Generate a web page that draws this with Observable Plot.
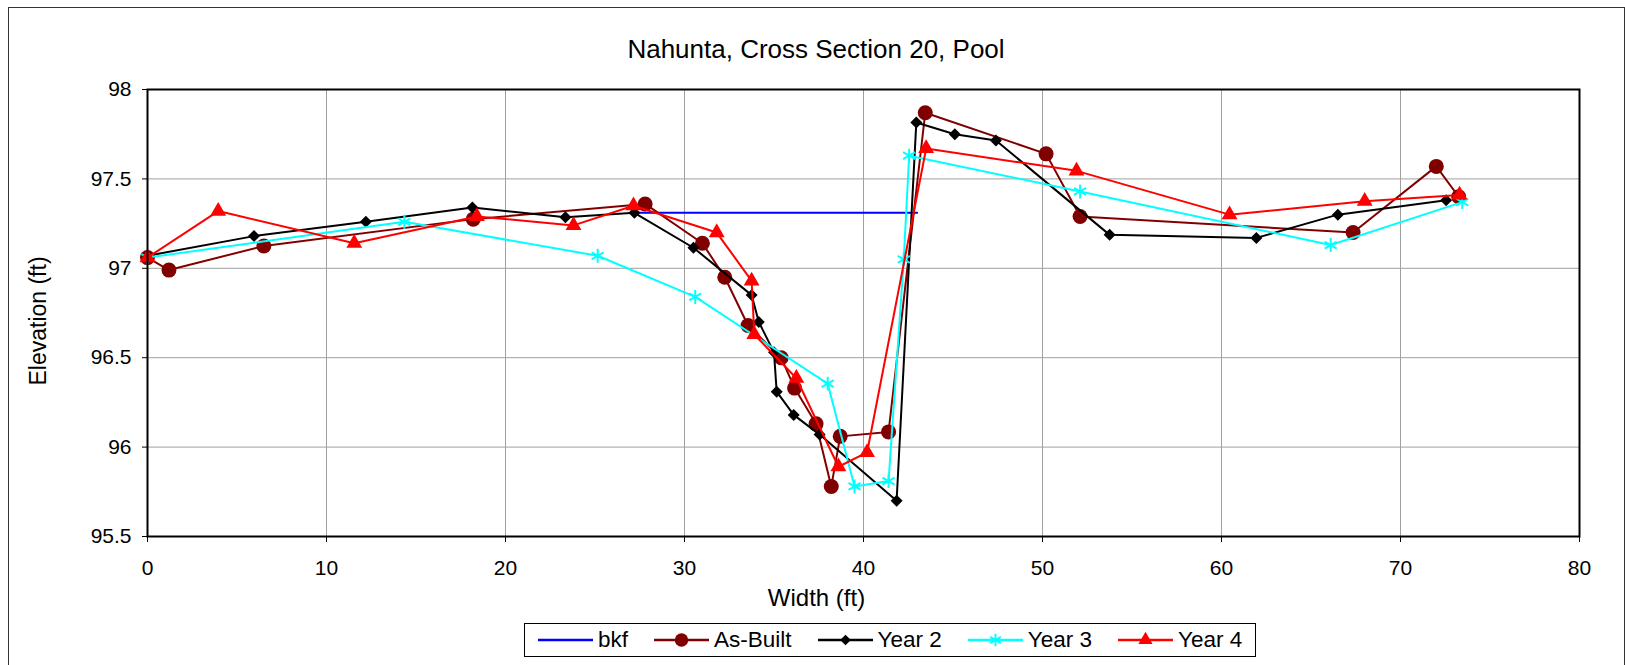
<!DOCTYPE html>
<html>
<head>
<meta charset="utf-8">
<script src="https://cdn.jsdelivr.net/npm/d3@7"></script>
<script src="https://cdn.jsdelivr.net/npm/@observablehq/plot@0.6"></script>
<style>
  html, body { margin: 0; padding: 0; background: #fff; }
  body { font-family: "Liberation Sans", Arial, sans-serif; color: #000; }
  #wrap { position: relative; width: 1625px; height: 665px; overflow: hidden; }
  #border { position: absolute; left: 8px; top: 7px; width: 1617px; height: 720px; border: 1px solid #333; box-sizing: border-box; pointer-events: none; }
  #title { margin-left: 8px; width: 1616px; height: 70px; box-sizing: border-box; padding-top: 36px; font-size: 26px; line-height: 26px; text-align: center; white-space: nowrap; }
  #chart svg { display: block; }
  #legendRow { height: 47px; position: relative; }
  #legend { position: absolute; left: 524px; top: 5px; width: 732px; height: 34px; box-sizing: border-box; border: 1px solid #000; display: flex; align-items: center; padding-left: 13px; font-size: 22.5px; white-space: nowrap; }
  .item { display: flex; align-items: center; margin-right: 26px; flex-shrink: 0; white-space: nowrap; }
  .item svg { margin-right: 5px; flex-shrink: 0; }
</style>
</head>
<body>
<div id="wrap">
  <div id="border"></div>
  <div id="title">Nahunta, Cross Section 20, Pool</div>
  <div id="chart"></div>
  <div id="legendRow"><div id="legend"></div></div>
</div>
<script>
// ---- data ----
const bkfX = [27.2, 43.0];
const bkfY = [97.31, 97.31];

const asBuiltX = [0, 1.2, 6.5, 18.2, 27.8, 31.0, 32.25, 33.55, 35.4, 36.15, 37.35, 38.2, 38.7, 41.4, 43.45, 50.2, 52.1, 67.35, 72.0, 73.25];
const asBuiltY = [97.06, 96.99, 97.125, 97.275, 97.36, 97.14, 96.95, 96.68, 96.50, 96.33, 96.13, 95.78, 96.06, 96.085, 97.87, 97.64, 97.29, 97.20, 97.57, 97.40];

const year2X = [0, 5.95, 12.2, 18.15, 23.35, 27.2, 30.5, 33.75, 34.15, 35.0, 35.15, 36.1, 37.55, 41.85, 42.95, 45.1, 47.4, 53.75, 61.95, 66.5, 72.55];
const year2Y = [97.07, 97.18, 97.26, 97.34, 97.285, 97.31, 97.115, 96.85, 96.70, 96.53, 96.31, 96.18, 96.07, 95.70, 97.815, 97.75, 97.715, 97.187, 97.17, 97.30, 97.38];

const year3X = [0, 14.35, 25.15, 30.6, 38.0, 39.5, 41.4, 42.25, 42.55, 52.1, 66.1, 73.45];
const year3Y = [97.06, 97.26, 97.07, 96.84, 96.355, 95.78, 95.81, 97.05, 97.63, 97.43, 97.13, 97.37];

const year4X = [0, 3.95, 11.55, 18.4, 23.8, 27.15, 31.8, 33.75, 33.9, 36.25, 38.6, 40.2, 43.5, 51.9, 60.45, 68.0, 73.3];
const year4Y = [97.06, 97.32, 97.14, 97.29, 97.24, 97.35, 97.20, 96.93, 96.63, 96.385, 95.89, 95.97, 97.67, 97.545, 97.30, 97.375, 97.41];

const xTicks = [0, 10, 20, 30, 40, 50, 60, 70, 80];
const yTicks = [95.5, 96, 96.5, 97, 97.5, 98];

const seriesNames = ["bkf", "As-Built", "Year 2", "Year 3", "Year 4"];
const xLabel = "Width (ft)";
const yLabel = "Elevation (ft)";

// ---- build ----
const rows = (xs, ys) => xs.map((x, i) => ({x, y: ys[i]}));
const series = [
  {name: seriesNames[0], color: "#0000ff", data: rows(bkfX, bkfY), symbol: null},
  {name: seriesNames[1], color: "#800000", data: rows(asBuiltX, asBuiltY), symbol: "circle", r: 7.5, fillSym: true},
  {name: seriesNames[2], color: "#000000", data: rows(year2X, year2Y), symbol: "diamond2", r: 5.4, fillSym: true},
  {name: seriesNames[3], color: "#00ffff", data: rows(year3X, year3Y), symbol: "asterisk", r: 6.6, fillSym: false},
  {name: seriesNames[4], color: "#ff0000", data: rows(year4X, year4Y), symbol: "triangle", r: 5.9, fillSym: true}
];

const marks = [
  Plot.gridX(xTicks, {stroke: "#a0a0a0", strokeOpacity: 1, strokeWidth: 1}),
  Plot.gridY(yTicks, {stroke: "#a0a0a0", strokeOpacity: 1, strokeWidth: 1}),
  Plot.axisX(xTicks, {tickSize: 6, tickPadding: 18, fontSize: 21, tickFormat: d => String(d), label: null, stroke: "#000"}),
  Plot.axisY(yTicks, {tickSize: 5, tickPadding: 11, fontSize: 21, tickFormat: d => String(d), label: null, stroke: "#000"})
];
for (const s of series) {
  marks.push(Plot.line(s.data, {x: "x", y: "y", stroke: s.color, strokeWidth: 2}));
  if (s.symbol) {
    if (s.fillSym) {
      marks.push(Plot.dot(s.data, {x: "x", y: "y", symbol: s.symbol, r: s.r, fill: s.color, stroke: "none"}));
    } else {
      marks.push(Plot.dot(s.data, {x: "x", y: "y", symbol: s.symbol, r: s.r, stroke: s.color, strokeWidth: 2, fill: "none"}));
    }
  }
}
marks.push(Plot.frame({stroke: "#000", strokeWidth: 2}));
marks.push(Plot.text([xLabel], {frameAnchor: "bottom", dx: -47, dy: 62, fontSize: 24, lineAnchor: "middle", textAnchor: "middle"}));
marks.push(Plot.text([yLabel], {frameAnchor: "left", rotate: -90, dx: -109, dy: 8, fontSize: 23, lineAnchor: "middle", textAnchor: "middle"}));

const chart = Plot.plot({
  width: 1625,
  height: 548,
  marginLeft: 147,
  marginRight: 46,
  marginTop: 19,
  marginBottom: 82,
  x: {domain: [0, 80]},
  y: {domain: [95.5, 98]},
  style: {fontFamily: '"Liberation Sans", Arial, sans-serif', fontSize: "21px", color: "#000", background: "transparent"},
  marks
});
document.getElementById("chart").appendChild(chart);

// ---- legend ----
const legend = document.getElementById("legend");
for (const s of series) {
  const item = document.createElement("div");
  item.className = "item";
  const ns = "http://www.w3.org/2000/svg";
  const sw = document.createElementNS(ns, "svg");
  sw.setAttribute("width", 55);
  sw.setAttribute("height", 20);
  const ln = document.createElementNS(ns, "line");
  ln.setAttribute("x1", 0); ln.setAttribute("x2", 55);
  ln.setAttribute("y1", 10); ln.setAttribute("y2", 10);
  ln.setAttribute("stroke", s.color); ln.setAttribute("stroke-width", 2.5);
  sw.appendChild(ln);
  if (s.symbol) {
    const typeMap = {circle: d3.symbolCircle, diamond2: d3.symbolDiamond2, asterisk: d3.symbolAsterisk, triangle: d3.symbolTriangle};
    const p = document.createElementNS(ns, "path");
    p.setAttribute("d", d3.symbol(typeMap[s.symbol], Math.PI * s.r * s.r * 0.8)());
    p.setAttribute("transform", "translate(27.5,10)");
    if (s.fillSym) { p.setAttribute("fill", s.color); }
    else { p.setAttribute("fill", "none"); p.setAttribute("stroke", s.color); p.setAttribute("stroke-width", 2); }
    sw.appendChild(p);
  }
  item.appendChild(sw);
  const t = document.createElement("span");
  t.textContent = s.name;
  item.appendChild(t);
  legend.appendChild(item);
}
</script>
</body>
</html>
